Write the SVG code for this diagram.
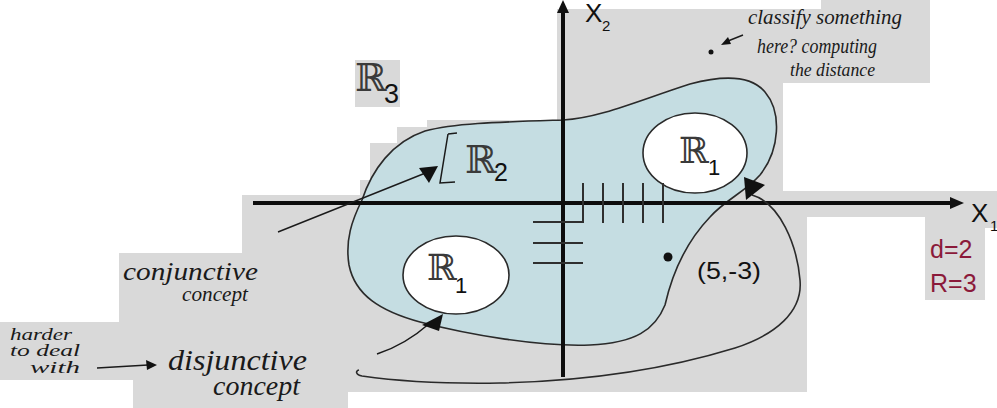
<svg xmlns="http://www.w3.org/2000/svg" width="997" height="408" viewBox="0 0 997 408">
<style>
.bg{fill:#d9d9d9}
.blob{fill:#c5dde2;stroke:#2a2a2a;stroke-width:1.6}
.ell{fill:#ffffff;stroke:#2a2a2a;stroke-width:1.6}
.curve{fill:none;stroke:#2a2a2a;stroke-width:1.6}
.axis{stroke:#0d0d0d;stroke-width:4;fill:none}
.tick{stroke:#2f2f2f;stroke-width:2;fill:none}
.thin{stroke:#1a1a1a;stroke-width:1.5;fill:none}
.head{fill:#111111}
.bb{font-family:"DejaVu Serif",serif;fill:#3a3a3a}
.sans{font-family:"Liberation Sans",Arial,sans-serif;fill:#111111}
.hand{font-family:"Liberation Serif","DejaVu Serif",serif;font-style:italic;fill:#1a1a1a}
.red{font-family:"Liberation Sans",Arial,sans-serif;fill:#8b1a3a}
</style>
<g id="background">
<path class="bg" d="M557,9 H821 V0 H930 V83 H783 V191 H997 V228 H985 V300 H925 V217 H807 V392 H348 V408 H133 V380 H0 V322 H119 V253 H242 V195 H360 V180 H370 V143 H397 V127 H427 V120 H557 Z"/>
<rect class="bg" x="355" y="60" width="45" height="47"/>
</g>
<g id="region-R2">
<path class="blob" d="M362,200 C372,170 392,142 425,131 C455,123 500,122 563,120 C600,118 640,100 690,84 C720,76 750,74 765,92 C782,112 780,150 760,175 C745,192 725,200 710,217 C688,240 673,270 665,305 C655,330 635,343 590,345 C540,347 470,335 420,322 C380,311 355,295 349,265 C345,240 352,220 362,200 Z"/>
<path class="thin" d="M448,134 L457,133 M448,134 L440,183 L455,182"/>
<text class="bb" x="465" y="173" font-size="38">ℝ</text>
<text class="sans" x="494" y="181" font-size="25">2</text>
</g>
<g id="region-R1-top">
<ellipse class="ell" cx="695" cy="153" rx="52" ry="40"/>
<text class="bb" x="679" y="163" font-size="36">ℝ</text>
<text class="sans" x="708" y="175" font-size="22">1</text>
</g>
<g id="region-R1-bottom">
<ellipse class="ell" cx="456" cy="275" rx="53" ry="39"/>
<text class="bb" x="427" y="280" font-size="36">ℝ</text>
<text class="sans" x="455" y="293" font-size="22">1</text>
</g>
<g id="region-R3">
<text class="bb" x="355" y="91" font-size="38">ℝ</text>
<text class="sans" x="384" y="103" font-size="27">3</text>
</g>
<g id="axes">
<line class="axis" x1="253" y1="203" x2="952" y2="203"/>
<polygon class="head" points="964,203 950,197 950,209"/>
<line class="axis" x1="563" y1="377" x2="563" y2="11"/>
<polygon class="head" points="563,0 557,13 569,13"/>
<text class="sans" x="585" y="22" font-size="26">X</text>
<text class="sans" x="602" y="31" font-size="15">2</text>
<text class="sans" x="971" y="222" font-size="26">X</text>
<text class="sans" x="990" y="231" font-size="15">1</text>
</g>
<g id="grid-marks">
<path class="tick" d="M533,222 H583 V183 M603,183 V223 M623,183 V223 M643,183 V223 M663,183 V223 M533,243 H583 M533,263 H583"/>
</g>
<g id="point-5-3">
<circle cx="668" cy="257" r="4.5" fill="#111"/>
<text class="sans" x="697" y="279" font-size="24" textLength="64" lengthAdjust="spacingAndGlyphs">(5,-3)</text>
</g>
<g id="params">
<text class="red" x="930" y="258" font-size="25">d=2</text>
<text class="red" x="930" y="292" font-size="25">R=3</text>
</g>
<g id="annotation-classify">
<circle cx="711" cy="52" r="2.5" fill="#111"/>
<text class="hand" x="748" y="24" font-size="20" textLength="154" lengthAdjust="spacingAndGlyphs">classify something</text>
<text class="hand" x="757" y="53" font-size="20" textLength="120" lengthAdjust="spacingAndGlyphs">here? computing</text>
<text class="hand" x="790" y="76" font-size="18" textLength="85" lengthAdjust="spacingAndGlyphs">the distance</text>
</g>
<g id="label-conjunctive">
<text class="hand" x="123" y="280" font-size="26" textLength="135" lengthAdjust="spacingAndGlyphs">conjunctive</text>
<text class="hand" x="182" y="301" font-size="21" textLength="66" lengthAdjust="spacingAndGlyphs">concept</text>
</g>
<g id="label-harder">
<text class="hand" x="10" y="340" font-size="16" textLength="62" lengthAdjust="spacingAndGlyphs">harder</text>
<text class="hand" x="10" y="356" font-size="16" textLength="70" lengthAdjust="spacingAndGlyphs">to deal</text>
<text class="hand" x="30" y="373" font-size="16" textLength="50" lengthAdjust="spacingAndGlyphs">with</text>
</g>
<g id="label-disjunctive">
<text class="hand" x="168" y="370" font-size="30" textLength="139" lengthAdjust="spacingAndGlyphs">disjunctive</text>
<text class="hand" x="213" y="395" font-size="27" textLength="87" lengthAdjust="spacingAndGlyphs">concept</text>
</g>
<g id="connectors">
<path class="curve" d="M752,195 C780,203 797,245 800,280 C803,312 775,335 735,348 C670,368 590,381 500,383 C440,384 390,380 362,376 C356,375 355,371 359,370"/>
<polygon class="head" points="744,177 765,185 746,200"/>
<line class="thin" x1="278" y1="232" x2="428" y2="172"/>
<polygon class="head" points="438,166 419,168 429,183"/>
<path class="thin" d="M377,354 Q405,345 430,323"/>
<polygon class="head" points="443,314 422,325 439,331"/>
<line class="thin" x1="97" y1="368" x2="148" y2="365"/>
<polygon class="head" points="157,365 146,360 147,370"/>
<line class="thin" x1="743" y1="35" x2="728" y2="41"/>
<polygon class="head" points="721,45 728,37 731,44"/>
</g>
</svg>
